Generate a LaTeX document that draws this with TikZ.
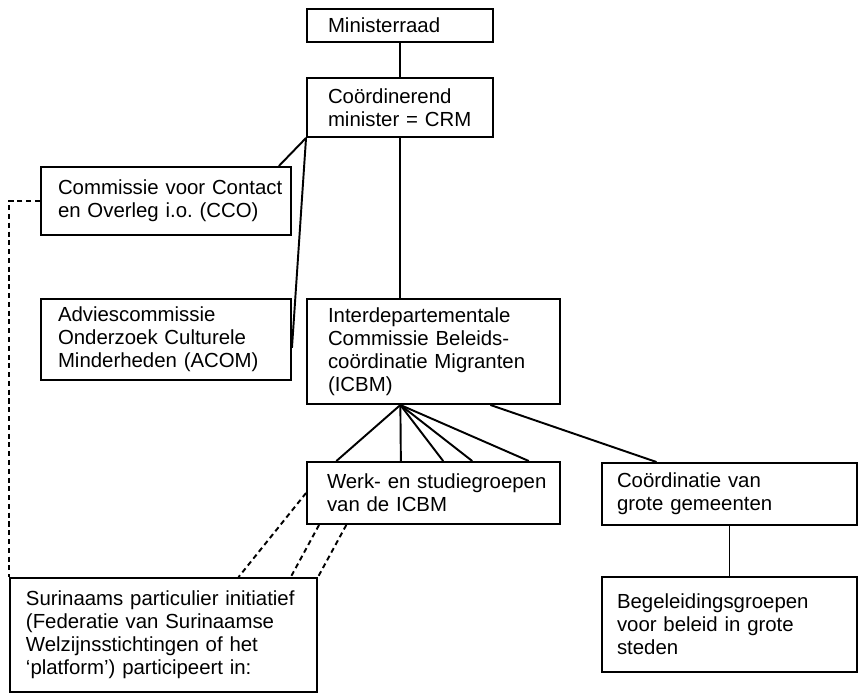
\documentclass[tikz,border=0pt]{standalone}
\usepackage{fontspec}
\setmainfont{Liberation Sans}
\usetikzlibrary{calc}
\frenchspacing

\begin{document}
\begin{tikzpicture}[line width=1.1pt,
  box/.style={draw, line width=1.1pt, inner xsep=0.08cm, inner ysep=2pt, align=left,
    font=\fontsize{11.6}{13.1}\selectfont, execute at begin node={\leftskip=#1}},
  box/.default=0.26cm,
  link/.style={dash pattern=on 2.9pt off 2.1pt}]

\useasboundingbox (0,0) rectangle (17.18,-13.86);

% --- top: ministers ---
\node[box=0.34cm, text width=3.56cm, minimum height=0.66cm] (mr) at (8.0,-0.51) {Ministerraad};
\node[box=0.34cm, text width=3.56cm, minimum height=1.18cm] (crm) at (8.0,-2.15) {Coördinerend\\minister = CRM};
\draw (mr)--(crm);

% --- left: commissions ---
\node[box, text width=4.84cm, minimum height=1.36cm] (cco) at (3.32,-4.02) {Commissie voor Contact\\en Overleg i.o. (CCO)};
\node[box, text width=4.84cm, minimum height=1.62cm] (acom) at (3.32,-6.79) {Adviescommissie\\Onderzoek Culturele\\Minderheden (ACOM)};
\draw (crm.south west) -- ($(cco.north west)!0.948!(cco.north east)$);
\draw (crm.south west) -- ($(acom.north east)!0.6!(acom.south east)$);

% --- middle: ICBM and its groups ---
\node[box=0.34cm, text width=4.9cm, minimum height=2.1cm] (icbm) at (8.67,-7.03) {Interdepartementale\\Commissie Beleids-\\coördinatie Migranten\\(ICBM)};
\node[box=0.32cm, text width=4.9cm, minimum height=1.24cm] (werk) at (8.67,-9.86) {Werk- en studiegroepen\\van de ICBM};
\draw (crm.south) -- (crm.south |- icbm.north);
\coordinate (fan) at ($(icbm.south west)!0.37!(icbm.south east)$);
\foreach \f in {0.119, 0.372, 0.538, 0.652, 0.874}
  \draw (fan) -- ($(werk.north west)!\f!(werk.north east)$);

% --- right: big cities ---
\node[box=0.22cm, text width=4.94cm, minimum height=1.24cm] (gem) at (14.59,-9.88) {Coördinatie van\\grote gemeenten};
\node[box=0.22cm, text width=4.94cm, minimum height=1.9cm] (steden) at (14.59,-12.49) {Begeleidingsgroepen\\voor beleid in grote\\steden};
\draw ($(icbm.south west)!0.723!(icbm.south east)$) -- ($(gem.north west)!0.216!(gem.north east)$);
\draw (gem)--(steden);

% --- bottom left: Surinaams initiatief ---
\node[box=0.24cm, text width=5.98cm, minimum height=2.28cm] (sur) at (3.27,-12.7) {Surinaams particulier initiatief\\(Federatie van Surinaamse\\Welzijnsstichtingen of het\\‘platform’) participeert in:};

% dashed participation
\draw[link] (cco.west) -| (sur.north west);
\draw[link] (werk.west) -- ($(sur.north west)!0.743!(sur.north east)$);
\draw[link] ($(werk.south west)!0.051!(werk.south east)$) -- ($(sur.north west)!0.912!(sur.north east)$);
\draw[link] ($(werk.south west)!0.158!(werk.south east)$) -- (sur.north east);

\end{tikzpicture}
\end{document}
